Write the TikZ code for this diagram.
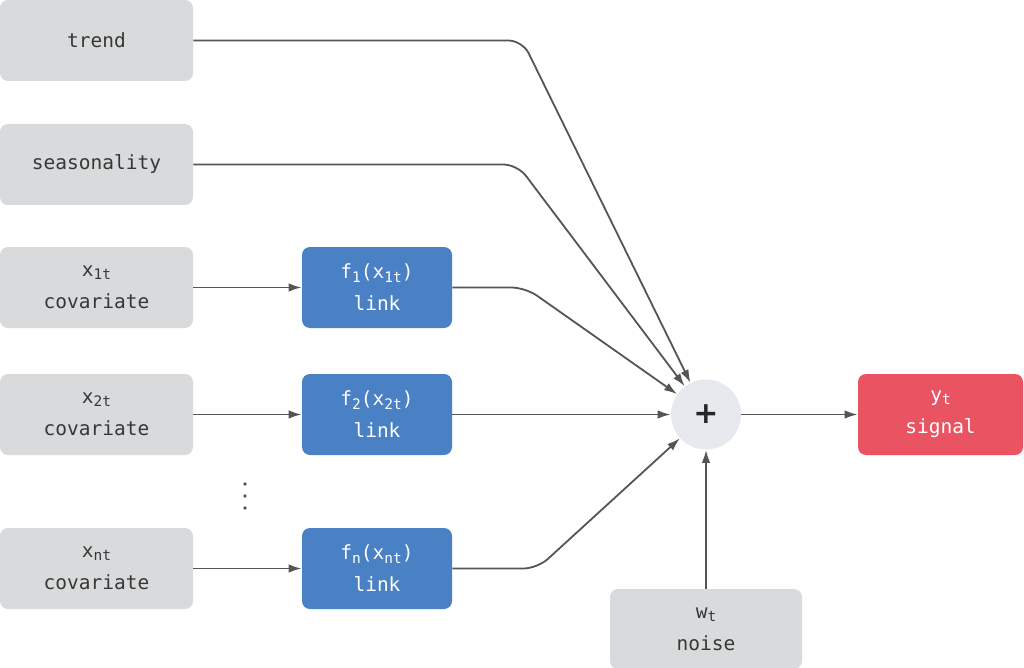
\documentclass[tikz,border=0pt]{standalone}
\usepackage{fontspec}
\setmonofont{DejaVu Sans Mono}
\setsansfont{DejaVu Sans}
\usetikzlibrary{arrows.meta}

\definecolor{boxgray}{RGB}{217,218,219}
\definecolor{linkblue}{RGB}{74,128,196}
\definecolor{signalred}{RGB}{234,84,98}
\definecolor{sumgray}{RGB}{230,233,238}
\definecolor{wiregray}{RGB}{85,85,85}
\definecolor{txtgray}{RGB}{55,55,55}

\newcommand{\subtx}[1]{\raisebox{-0.3ex}{\fontsize{14.5}{14.5}\selectfont #1}}

\tikzset{every picture/.style={line width=0.75pt}}

\begin{document}
\begin{tikzpicture}[x=1pt,y=1pt,yscale=-1,xscale=1,
  box/.style={rounded corners=8pt, minimum width=193pt, minimum height=81pt, align=center, inner sep=0pt, font=\ttfamily\fontsize{19.5}{32}\selectfont},
  inbox/.style={box, fill=boxgray, text=txtgray},
  linkbox/.style={box, fill=linkblue, text=white, minimum width=150pt},
  wire/.style={draw=wiregray, line width=1.8pt, rounded corners=14pt, -{Latex[length=13pt,width=8.5pt]}},
]
\useasboundingbox (0,0) rectangle (1024,668);

% Input boxes
\node [inbox] (trend) at (96.5,40.5) {trend};
\node [inbox] (season) at (96.5,164.5) {seasonality};
\node [inbox] (cov1) at (96.5,287.5) {x\subtx{1t}\\covariate};
\node [inbox] (cov2) at (96.5,414.5) {x\subtx{2t}\\covariate};
\node [inbox] (covn) at (96.5,568.5) {x\subtx{nt}\\covariate};

% Link boxes
\node [linkbox] (link1) at (377,287.5) {f\subtx{1}(x\subtx{1t})\\link};
\node [linkbox] (link2) at (377,414.5) {f\subtx{2}(x\subtx{2t})\\link};
\node [linkbox] (linkn) at (377,568.5) {f\subtx{n}(x\subtx{nt})\\link};

% Sum, noise and signal
\node [circle, fill=sumgray, minimum size=70pt, inner sep=0pt, font=\sffamily\bfseries\fontsize{30}{30}\selectfont, text=black!85] (sum) at (706,414.5) {+};
\node [inbox, minimum width=192pt, minimum height=80pt] (noise) at (706,629) {w\subtx{t}\\noise};
\node [box, fill=signalred, text=white, minimum width=165pt] (signal) at (940.5,414.5) {y\subtx{t}\\signal};

% Dots
\fill [wiregray] (245,484) circle (1.8pt);
\fill [wiregray] (245,496) circle (1.8pt);
\fill [wiregray] (245,508) circle (1.8pt);

% Connectors
\draw [wire] (cov1) -- (link1);
\draw [wire] (cov2) -- (link2);
\draw [wire] (covn) -- (linkn);
\draw [wire] (trend.east) -- ++(329,0) -- (sum);
\draw [wire] (season.east) -- ++(324,0) -- (sum);
\draw [wire] (link1.east) -- ++(73,0) -- (sum);
\draw [wire] (link2) -- (sum);
\draw [wire] (linkn.east) -- ++(85,0) -- (sum);
\draw [wire] (noise) -- (sum);
\draw [wire] (sum) -- (signal);

\end{tikzpicture}
\end{document}
